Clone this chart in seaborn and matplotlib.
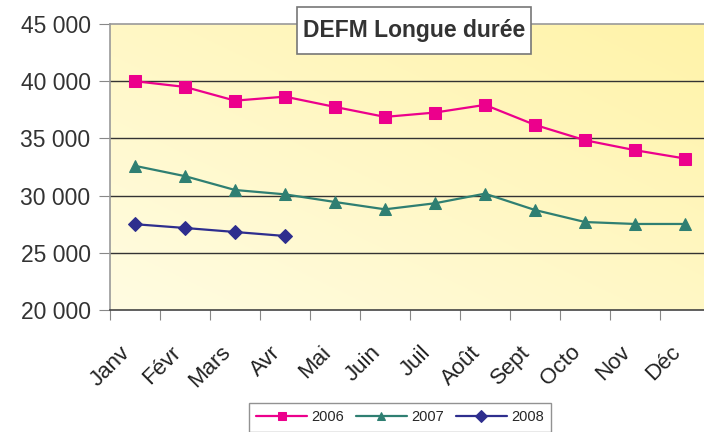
import numpy as np
import pandas as pd
import matplotlib
matplotlib.use("Agg")
from matplotlib import pyplot as plt
from matplotlib.colors import LinearSegmentedColormap
from matplotlib.patches import Rectangle
from matplotlib.transforms import ScaledTranslation
import seaborn as sns

months = ["Janv", "Févr", "Mars", "Avr", "Mai", "Juin", "Juil", "Août",
          "Sept", "Octo", "Nov", "Déc"]
v2006 = [40000, 39500, 38300, 38650, 37750, 36880, 37260, 37930,
         36180, 34840, 33970, 33240]
v2007 = [32600, 31700, 30490, 30110, 29440, 28800, 29330, 30170,
         28740, 27690, 27520, 27520]
v2008 = [27500, 27170, 26820, 26470]
yticks = [20000, 25000, 30000, 35000, 40000, 45000]

series = [("2006", v2006, "#EC008C", "s", 8),
          ("2007", v2007, "#2F7F72", "^", 9),
          ("2008", v2008, "#2E2E8E", "D", 7)]

sns.set_style("white")
plt.rcParams["font.family"] = ["Liberation Sans", "DejaVu Sans"]

fig = plt.figure(figsize=(7.04, 4.32), dpi=100)
ax = fig.add_axes([110 / 704, 122 / 432, 600 / 704, 286 / 432])

# background gradient
g = np.linspace(0, 1, 200)
grad = (g[None, :] + g[::-1, None]) / 2
cmap = LinearSegmentedColormap.from_list("bg", ["#FFFCE2", "#FFF3A8"])
ax.imshow(grad, cmap=cmap, extent=[-0.5, 11.5, 20000, 45000],
          aspect="auto", origin="upper", zorder=0)

for name, vals, col, mk, ms in series:
    sns.lineplot(x=list(range(len(vals))), y=vals, ax=ax, color=col,
                 marker=mk, markersize=ms, markeredgecolor=col,
                 linewidth=1.6, label=name, zorder=3)

ax.set_xlim(-0.5, 11.5)
ax.set_ylim(20000, 45000)
ax.set_yticks(yticks)
ax.set_yticklabels([f"{v:,}".replace(",", " ") for v in yticks],
                   fontsize=16.5, color="#333333")
for y in yticks[1:-1]:
    ax.axhline(y, color="#333333", linewidth=1, zorder=1)

ax.set_xticks(np.arange(-0.5, 12, 1))
ax.set_xticklabels([])
ax.set_xticks(range(12), minor=True)
ax.set_xticklabels(months, minor=True, rotation=45, ha="right",
                   rotation_mode="anchor", fontsize=16, color="#222222")
ax.tick_params(axis="x", which="minor", length=0, pad=23)
ax.tick_params(axis="x", which="major", length=7, color="#888888",
               direction="out", bottom=True)
ax.tick_params(axis="y", length=8, color="#888888", direction="out",
               left=True, pad=6)
shift = ScaledTranslation(-15 / 100, 0, fig.dpi_scale_trans)
for lab in ax.get_xticklabels(minor=True):
    lab.set_transform(lab.get_transform() + shift)

for s in ["left", "top"]:
    ax.spines[s].set_color("#999999")
    ax.spines[s].set_linewidth(1.2)
ax.spines["bottom"].set_color("#444444")
ax.spines["bottom"].set_linewidth(1.2)
ax.spines["right"].set_visible(False)

# title box
fig.patches.append(Rectangle((297 / 704, 1 - 54 / 432), 234 / 704, 47 / 432,
                             transform=fig.transFigure, facecolor="white",
                             edgecolor="#777777", linewidth=1.2, zorder=5))
fig.text(414 / 704, 1 - 31 / 432, "DEFM Longue durée", fontsize=16.5,
         fontweight="bold", color="#333333", ha="center", va="center",
         zorder=6)

leg = ax.legend(loc="upper center", bbox_to_anchor=(400 / 704, 1 - 403 / 432),
                bbox_transform=fig.transFigure, ncol=3, fontsize=10.5,
                frameon=True, fancybox=False, handlelength=3.5,
                columnspacing=0.8, handletextpad=0.3, borderpad=0.5,
                borderaxespad=0)
leg.get_frame().set_edgecolor("#777777")
leg.get_frame().set_linewidth(1)
for h in leg.legend_handles:
    h.set_markersize(6)

fig.savefig("out.png", dpi=100)
